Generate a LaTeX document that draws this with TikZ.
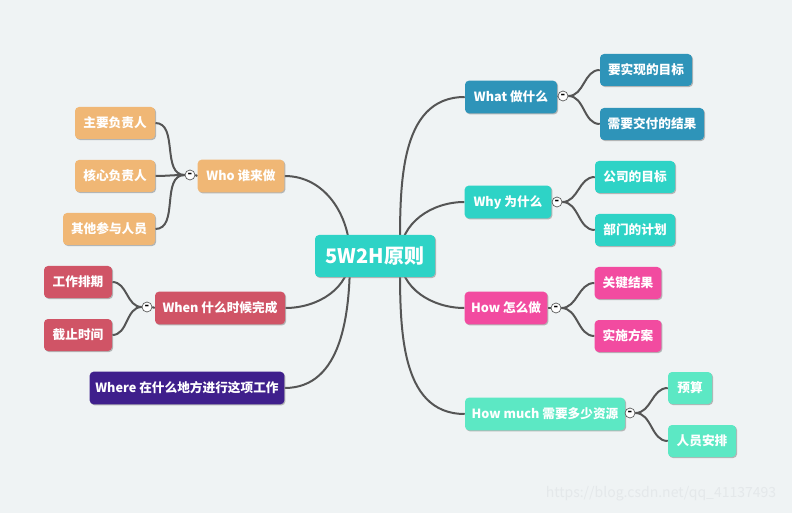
\documentclass[tikz,border=0pt]{standalone}
\usepackage{fontspec}
\setmainfont{Noto Sans CJK SC}
\usetikzlibrary{shadows}
\definecolor{bgc}{HTML}{EFF3F4}
\definecolor{edgec}{HTML}{555555}
\definecolor{cteal}{HTML}{2ED3C6}
\definecolor{cblue}{HTML}{2E94B9}
\definecolor{cpink}{HTML}{F24BA0}
\definecolor{cmint}{HTML}{5CE8C4}
\definecolor{corange}{HTML}{F0B775}
\definecolor{cred}{HTML}{D05466}
\definecolor{cpurple}{HTML}{3F1F8C}
\definecolor{wmark}{HTML}{E4E8EA}
\pgfdeclarelayer{bg}
\pgfdeclarelayer{edges}
\pgfsetlayers{bg,edges,main}
\tikzset{
  box/.style={rounded corners=3pt, text=white, inner sep=0pt, minimum height=24.5pt,
    font=\fontsize{9.5pt}{11pt}\selectfont\bfseries,
    drop shadow={shadow xshift=0.8pt, shadow yshift=-0.8pt, fill=black!45, opacity=0.6}},
  sub/.style={box, minimum height=24pt},
  conn/.style={draw=edgec, line width=1.5pt},
  fold/.style={circle, draw=edgec, fill=white, line width=0.5pt, minimum size=7.5pt, inner sep=0pt,
    font=\fontsize{9pt}{9pt}\selectfont\bfseries, text=black}
}
\begin{document}
\begin{tikzpicture}[x=0.75pt,y=-0.75pt]
\begin{pgfonlayer}{bg}
\fill[bgc] (0,0) rectangle (792,513);
\end{pgfonlayer}
\useasboundingbox (0,0) rectangle (792,513);

% center
\node[box, fill=cteal, minimum width=90pt, minimum height=31.5pt, font=\fontsize{15pt}{17pt}\selectfont\bfseries] (c) at (375,256) {5W2H原则};
\coordinate (cr) at (400,256);
\coordinate (cl) at (350,256);

% right branches
\node[box, fill=cblue, minimum width=69pt] (what) at (511,97) {What 做什么};
\node[sub, fill=cblue, minimum width=69pt] (what1) at (646,70) {要实现的目标};
\node[sub, fill=cblue, minimum width=78pt] (what2) at (652,124) {需要交付的结果};

\node[box, fill=cteal, minimum width=65pt] (why) at (508,202) {Why 为什么};
\node[sub, fill=cteal, minimum width=60pt] (why1) at (635,177) {公司的目标};
\node[sub, fill=cteal, minimum width=60pt] (why2) at (635,230) {部门的计划};

\node[box, fill=cpink, minimum width=62pt] (how) at (506,308) {How 怎么做};
\node[sub, fill=cpink, minimum width=50pt] (how1) at (628,283) {关键结果};
\node[sub, fill=cpink, minimum width=50pt] (how2) at (628,336) {实施方案};

\node[box, fill=cmint, minimum width=120pt] (much) at (545,414) {How much 需要多少资源};
\node[sub, fill=cmint, minimum width=33pt] (much1) at (690,388) {预算};
\node[sub, fill=cmint, minimum width=51pt] (much2) at (702,441) {人员安排};

% left branches
\node[box, fill=corange, minimum width=65pt] (who) at (241,176) {Who 谁来做};
\node[sub, fill=corange, minimum width=60pt] (who1) at (115,123) {主要负责人};
\node[sub, fill=corange, minimum width=60pt] (who2) at (115,176) {核心负责人};
\node[sub, fill=corange, minimum width=69pt] (who3) at (109,229) {其他参与人员};

\node[box, fill=cred, minimum width=97.5pt] (when) at (220,308) {When 什么时候完成};
\node[sub, fill=cred, minimum width=51pt] (when1) at (78,282) {工作排期};
\node[sub, fill=cred, minimum width=51pt] (when2) at (78,335) {截止时间};

\node[box, fill=cpurple, minimum width=146pt] (where) at (187,388) {Where 在什么地方进行这项工作};

% fold markers
\node[fold] (fwhat) at (563,96) {-};
\node[fold] (fwhy) at (557,202) {-};
\node[fold] (fhow) at (556,308) {-};
\node[fold] (fmuch) at (630,413) {-};
\node[fold] (fwho) at (190,175) {-};
\node[fold] (fwhen) at (147,307) {-};

\node[text=wmark, font=\fontsize{10.5pt}{12pt}\selectfont] (wm) at (661,494) {https://blog.csdn.net/qq\_41137493};

\begin{pgfonlayer}{edges}
\draw[conn] (cr) to[out=90,in=180] (what.west);
\draw[conn] (cr) to[out=90,in=180] (why.west);
\draw[conn] (cr) to[out=-90,in=180] (how.west);
\draw[conn] (cr) to[out=-90,in=180] (much.west);
\draw[conn] (cl) to[out=90,in=0] (who.east);
\draw[conn] (cl) to[out=-90,in=0] (when.east);
\draw[conn] (cl) to[out=-90,in=0] (where.east);

\draw[conn] (what.east) -- (fwhat.west);
\draw[conn] (fwhat.east) to[out=0,in=180] (what1.west);
\draw[conn] (fwhat.east) to[out=0,in=180] (what2.west);
\draw[conn] (why.east) -- (fwhy.west);
\draw[conn] (fwhy.east) to[out=0,in=180] (why1.west);
\draw[conn] (fwhy.east) to[out=0,in=180] (why2.west);
\draw[conn] (how.east) -- (fhow.west);
\draw[conn] (fhow.east) to[out=0,in=180] (how1.west);
\draw[conn] (fhow.east) to[out=0,in=180] (how2.west);
\draw[conn] (much.east) -- (fmuch.west);
\draw[conn] (fmuch.east) to[out=0,in=180] (much1.west);
\draw[conn] (fmuch.east) to[out=0,in=180] (much2.west);

\draw[conn] (who.west) -- (fwho.east);
\draw[conn] (fwho.west) to[out=180,in=0] (who1.east);
\draw[conn] (fwho.west) to[out=180,in=0] (who2.east);
\draw[conn] (fwho.west) to[out=180,in=0] (who3.east);
\draw[conn] (when.west) -- (fwhen.east);
\draw[conn] (fwhen.west) to[out=180,in=0] (when1.east);
\draw[conn] (fwhen.west) to[out=180,in=0] (when2.east);
\end{pgfonlayer}
\end{tikzpicture}
\end{document}
